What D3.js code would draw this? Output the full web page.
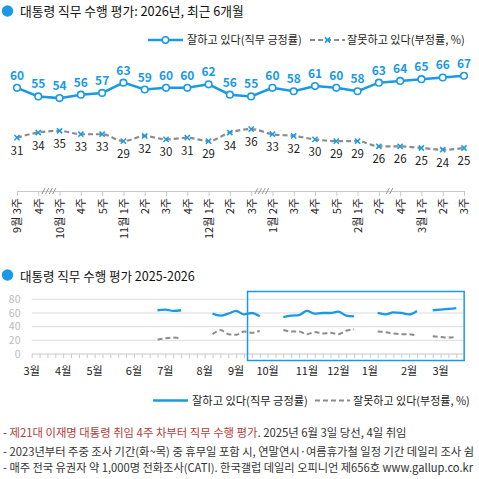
<!DOCTYPE html>
<html>
<head>
<meta charset="utf-8">
<script src="https://cdn.jsdelivr.net/npm/d3@7"></script>
<style>
body { margin:0; background:#fff; }
svg text { font-family: "Noto Sans CJK KR", "Noto Sans", sans-serif; }
</style>
</head>
<body>
<script>
// ---------------- data ----------------
// recent 6 months (weekly, with holiday gaps)
var weekLabels = ["9월 3주","4주","10월 3주","4주","5주","11월 1주","2주","3주","4주","12월 1주","2주","3주",
                  "1월 2주","3주","4주","5주","2월 1주","2주","4주","3월 1주","2주","3주"];
var approve6m    = [60,55,54,56,57,63,59,60,60,62,56,55,60,58,61,60,58,63,64,65,66,67];
var disapprove6m = [31,34,35,33,33,29,32,30,31,29,34,36,33,32,30,29,29,26,26,25,24,25];
// skipped weeks between points (index of point before the gap, number of slashes)
var gapAfter = [1, 11, 17];
var gapMarks = [4, 4, 2];

// 2025-2026 weekly series, week 0 = 2025 3월 1주, null = no survey
var approveWeekly = [null,null,null,null,null,null,null,null,null,null,null,null,null,null,null,null,
  64,65,63,64, null,null,null, 59,56,59,63,58,60,55, null,null,
  54,56,57,63,59,60,60,62,56,55, null,null, 60,58,61,60,58,63, null, 64,65,66,67];
var disapproveWeekly = [null,null,null,null,null,null,null,null,null,null,null,null,null,null,null,null,
  21,23,24,23, null,null,null, 29,35,29,28,33,31,34, null,null,
  35,33,33,29,32,30,31,29,34,36, null,null, 33,32,30,29,29,26, null, 26,25,24,25];
var monthNames = ["3월","4월","5월","6월","7월","8월","9월","10월","11월","12월","1월","2월","3월"];
var monthWeek  = [0,4,8,13,17,22,26,30,35,39,43,48,52];
var yTicks2 = [0,20,40,60,80];

var legendLabels = ["잘하고 있다(직무 긍정률)", "잘못하고 있다(부정률, %)"];

var blue = "#1a9ae6", grey = "#8c8c8c", red = "#b0403a", dark = "#333";

var svg = d3.select("body").append("svg")
  .attr("width", 479)
  .attr("height", 479);

// scale a text's font so it spans the given width
function fit(t, w){
  var len = t.node().getComputedTextLength();
  var fs = parseFloat(t.style("font-size"));
  t.style("font-size", (fs * w / len) + "px");
  return t;
}

function xMark(g, x, y){
  g.append("path")
    .attr("d", "M" + (x-2.6) + "," + (y-2.6) + "L" + (x+2.6) + "," + (y+2.6) +
               "M" + (x-2.6) + "," + (y+2.6) + "L" + (x+2.6) + "," + (y-2.6))
    .attr("stroke", blue).attr("stroke-width", 1.5).attr("fill", "none");
}

// ---------------- chart 1 ----------------
svg.append("circle").attr("cx", 7.5).attr("cy", 11).attr("r", 5.7).attr("fill", blue);
fit(svg.append("text").attr("x", 20).attr("y", 16).style("font-size", "14px").attr("fill", "#111")
  .text("대통령 직무 수행 평가: 2026년, 최근 6개월"), 224);

// legend
var lg = svg.append("g");
lg.append("line").attr("x1", 148).attr("x2", 183).attr("y1", 40).attr("y2", 40)
  .attr("stroke", blue).attr("stroke-width", 2.5);
lg.append("circle").attr("cx", 165.5).attr("cy", 40).attr("r", 3.2)
  .attr("fill", "#fff").attr("stroke", blue).attr("stroke-width", 1.5);
fit(lg.append("text").attr("x", 187).attr("y", 44).style("font-size", "12px").attr("fill", "#222")
  .text(legendLabels[0]), 115);
lg.append("line").attr("x1", 310).attr("x2", 345).attr("y1", 40).attr("y2", 40)
  .attr("stroke", grey).attr("stroke-width", 2.2).attr("stroke-dasharray", "5,3");
xMark(lg, 327.5, 40);
fit(lg.append("text").attr("x", 347).attr("y", 44).style("font-size", "12px").attr("fill", "#222")
  .text(legendLabels[1]), 118);

var x1 = d3.scaleLinear().domain([0, weekLabels.length - 1]).range([17, 464]);
var y1 = d3.scaleLinear().domain([0, 100]).range([191, 19]);

// axis with rotated week labels
var ax1 = svg.append("g")
  .attr("transform", "translate(0,191)")
  .call(d3.axisBottom(x1).tickValues(d3.range(weekLabels.length))
    .tickFormat(function(i){ return weekLabels[i]; }).tickSize(5).tickSizeOuter(0));
ax1.select(".domain").attr("stroke", "#c8c8c8");
ax1.selectAll(".tick line").attr("stroke", "#c8c8c8");
ax1.selectAll(".tick text")
  .attr("transform", "rotate(-90)")
  .attr("x", -7).attr("y", 0).attr("dy", "0.35em")
  .style("text-anchor", "end")
  .style("font-size", "11px")
  .attr("fill", "#222");

// gap slashes on the axis
gapAfter.forEach(function(a, j){
  var cx = x1(a + 0.5), n = gapMarks[j];
  for (var k = 0; k < n; k++){
    var ox = cx + (k - (n - 1) / 2) * 3.6;
    svg.append("line").attr("x1", ox - 1.6).attr("y1", 194).attr("x2", ox + 1.6).attr("y2", 188)
      .attr("stroke", "#999").attr("stroke-width", 1);
  }
});

var line1 = d3.line().x(function(d, i){ return x1(i); }).y(function(d){ return y1(d); });

svg.append("path").datum(disapprove6m)
  .attr("d", line1.curve(d3.curveMonotoneX))
  .attr("fill", "none").attr("stroke", grey).attr("stroke-width", 2.2).attr("stroke-dasharray", "5,3");
svg.append("path").datum(approve6m)
  .attr("d", line1.curve(d3.curveLinear))
  .attr("fill", "none").attr("stroke", blue).attr("stroke-width", 2.5);

disapprove6m.forEach(function(d, i){ xMark(svg, x1(i), y1(d)); });

svg.selectAll("circle.pt").data(approve6m).enter().append("circle")
  .attr("class", "pt")
  .attr("cx", function(d, i){ return x1(i); })
  .attr("cy", function(d){ return y1(d); })
  .attr("r", 3.3)
  .attr("fill", "#fff").attr("stroke", blue).attr("stroke-width", 1.6);

svg.selectAll("text.up").data(approve6m).enter().append("text")
  .attr("class", "up")
  .attr("x", function(d, i){ return x1(i); })
  .attr("y", function(d){ return y1(d) - 8; })
  .attr("text-anchor", "middle")
  .style("font-size", "12px").style("font-weight", "bold")
  .attr("fill", blue)
  .text(function(d){ return d; });

svg.selectAll("text.down").data(disapprove6m).enter().append("text")
  .attr("class", "down")
  .attr("x", function(d, i){ return x1(i); })
  .attr("y", function(d){ return y1(d) + 17; })
  .attr("text-anchor", "middle")
  .style("font-size", "11.5px")
  .attr("fill", "#222")
  .text(function(d){ return d; });

// ---------------- chart 2 ----------------
svg.append("circle").attr("cx", 7.5).attr("cy", 275).attr("r", 5.7).attr("fill", blue);
fit(svg.append("text").attr("x", 20).attr("y", 281).style("font-size", "14px").attr("fill", "#111")
  .text("대통령 직무 수행 평가 2025-2026"), 175);

var x2 = d3.scaleLinear().domain([0, approveWeekly.length - 1]).range([31.7, 456.3]);
var y2 = d3.scaleLinear().domain([0, 80]).range([354, 299.3]);

// grid
svg.selectAll("line.grid").data(yTicks2).enter().append("line")
  .attr("class", "grid")
  .attr("x1", x2(0)).attr("x2", x2(55) - 0.5)
  .attr("y1", function(d){ return y2(d); }).attr("y2", function(d){ return y2(d); })
  .attr("stroke", function(d){ return d === 0 ? "#c8c8c8" : "#dcdcdc"; })
  .attr("stroke-width", 1);

svg.selectAll("text.ylab").data(yTicks2).enter().append("text")
  .attr("class", "ylab")
  .attr("x", 20.5)
  .attr("y", function(d){ return y2(d); })
  .attr("dy", "0.35em")
  .attr("text-anchor", "end")
  .style("font-size", "10.5px")
  .attr("fill", "#bbb")
  .text(function(d){ return d; });

// week ticks
var ax2 = svg.append("g")
  .attr("transform", "translate(0,354)")
  .call(d3.axisBottom(x2).tickValues(d3.range(approveWeekly.length)).tickFormat("").tickSize(4).tickSizeOuter(0));
ax2.select(".domain").remove();
ax2.selectAll(".tick line").attr("stroke", "#c8c8c8");

svg.selectAll("text.month").data(monthNames).enter().append("text")
  .attr("class", "month")
  .attr("x", function(d, i){ return x2(monthWeek[i]); })
  .attr("y", 375)
  .attr("text-anchor", "middle")
  .style("font-size", "11px")
  .attr("fill", "#222")
  .text(function(d){ return d; });

var line2 = d3.line()
  .defined(function(d){ return d != null; })
  .x(function(d, i){ return x2(i); })
  .y(function(d){ return y2(d); })
  .curve(d3.curveMonotoneX);

svg.append("path").datum(disapproveWeekly)
  .attr("d", line2)
  .attr("fill", "none").attr("stroke", grey).attr("stroke-width", 2).attr("stroke-dasharray", "5,3");
svg.append("path").datum(approveWeekly)
  .attr("d", line2)
  .attr("fill", "none").attr("stroke", blue).attr("stroke-width", 2.3);

// box for the recent 6 months
svg.append("rect")
  .attr("x", x2(27.45)).attr("y", 291.5)
  .attr("width", x2(55) - x2(27.45)).attr("height", 69)
  .attr("fill", "none").attr("stroke", blue).attr("stroke-width", 1.5);

// legend 2
var lg2 = svg.append("g");
lg2.append("line").attr("x1", 153).attr("x2", 188).attr("y1", 400.5).attr("y2", 400.5)
  .attr("stroke", blue).attr("stroke-width", 2.5);
fit(lg2.append("text").attr("x", 192).attr("y", 405).style("font-size", "12px").attr("fill", "#222")
  .text(legendLabels[0]), 116);
lg2.append("line").attr("x1", 315).attr("x2", 350).attr("y1", 400.5).attr("y2", 400.5)
  .attr("stroke", grey).attr("stroke-width", 2).attr("stroke-dasharray", "5,3");
fit(lg2.append("text").attr("x", 353).attr("y", 405).style("font-size", "12px").attr("fill", "#222")
  .text(legendLabels[1]), 117);

// ---------------- notes ----------------
var n1 = svg.append("text").attr("x", 3).attr("y", 437).style("font-size", "11px").attr("fill", dark);
n1.append("tspan").text("- ");
n1.append("tspan").attr("fill", red).text("제21대 이재명 대통령 취임 4주 차부터 직무 수행 평가");
n1.append("tspan").text(". 2025년 6월 3일 당선, 4일 취임");
fit(n1, 404);

fit(svg.append("text").attr("x", 3).attr("y", 455.5).style("font-size", "11px").attr("fill", dark)
  .text("- 2023년부터 주중 조사 기간(화~목) 중 휴무일 포함 시, 연말연시·여름휴가철 일정 기간 데일리 조사 쉼"), 472);

fit(svg.append("text").attr("x", 3).attr("y", 472).style("font-size", "11px").attr("fill", dark)
  .text("- 매주 전국 유권자 약 1,000명 전화조사(CATI). 한국갤럽 데일리 오피니언 제656호 www.gallup.co.kr"), 471);
</script>
</body>
</html>
